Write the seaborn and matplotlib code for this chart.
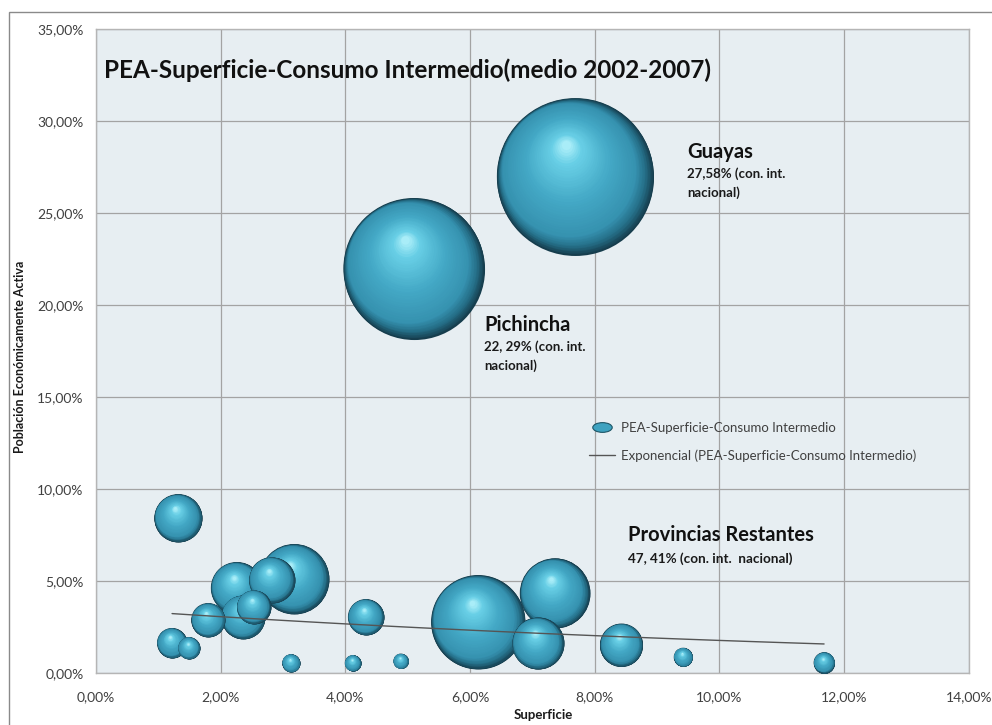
import numpy as np
import pandas as pd
import seaborn as sns
import matplotlib.pyplot as plt
import matplotlib.transforms as mtransforms
from matplotlib.colors import LinearSegmentedColormap
from matplotlib.lines import Line2D
from matplotlib.patches import Rectangle
from matplotlib.path import Path
from matplotlib.ticker import FuncFormatter, MultipleLocator

# --- DATI (in %) ---
superficie = [7.69, 5.10, 1.32, 3.18, 2.26, 2.82, 2.36, 2.53, 1.80, 1.22, 1.49,
              3.13, 4.12, 4.89, 4.33, 6.13, 7.36, 7.09, 8.43, 9.42, 11.68]
pea = [26.98, 21.98, 8.42, 5.11, 4.62, 5.05, 3.04, 3.59, 2.88, 1.63, 1.36,
       0.54, 0.54, 0.65, 3.04, 2.77, 4.33, 1.61, 1.52, 0.86, 0.56]
consumo_int = [27.58, 22.29, 2.58, 5.48, 3.03, 2.37, 2.16, 1.29, 1.29, 1.01, 0.54,
               0.36, 0.29, 0.25, 1.45, 9.89, 5.48, 3.03, 2.07, 0.40, 0.49]

titolo = 'PEA-Superficie-Consumo Intermedio(medio 2002-2007)'
serie = 'PEA-Superficie-Consumo Intermedio'

df = pd.DataFrame({'Superficie': superficie, 'PEA': pea, 'Consumo': consumo_int})

# --- STILE ---
sns.set_theme(style='white')
plt.rcParams['font.family'] = ['Lato', 'DejaVu Sans']

W, H = 992, 725
fig = plt.figure(figsize=(W / 100, H / 100), dpi=100)
ax = fig.add_axes([96 / W, 1 - 673 / H, (968.7 - 96) / W, (673 - 29) / H])
ax.set_facecolor('#e7eef2')

# area proporzionale al consumo intermedio
k = 463.0
vmin, vmax = df['Consumo'].min(), df['Consumo'].max()
sns.scatterplot(data=df, x='Superficie', y='PEA', size='Consumo',
                sizes=(k * vmin, k * vmax), size_norm=(vmin, vmax),
                color='#173f4d', linewidth=0, legend=False, ax=ax, zorder=2)

# effetto sfera: cerchi annidati, ombra in basso a destra, luce in alto a sinistra
cmap = LinearSegmentedColormap.from_list('sfera', [
    (0.0, '#163d4d'), (0.07, '#256f88'), (0.15, '#3692b0'), (0.45, '#43a8c5'),
    (0.80, '#68cfe6'), (1.0, '#c4faff')])
diag = np.array([-0.707, 0.707])
luce = np.array([-0.12, 0.40])
o_mid = 0.15 * 0.8 * diag

def spostamento(f):
    # spostamento del centro dello strato (in frazioni del raggio)
    if f >= 0.85:
        return (1 - f) * 0.8 * diag
    t = (0.85 - f) / (0.85 - 0.06)
    return o_mid + t * (luce - o_mid)

strati = np.concatenate([np.linspace(1, 0.85, 24), np.linspace(0.84, 0.06, 34)])
ordine = df.sort_values('Consumo', ascending=False).index
z = 3
for i in ordine:
    x, y, v = df.loc[i, 'Superficie'], df.loc[i, 'PEA'], df.loc[i, 'Consumo']
    r_pt = np.sqrt(k * v) / 2
    for f in strati:
        o = spostamento(f) * r_pt
        tr = mtransforms.offset_copy(ax.transData, fig=fig, x=o[0], y=o[1], units='points')
        ax.scatter([x], [y], s=(2 * f * r_pt) ** 2, color=cmap(1 - f),
                   transform=tr, linewidths=0, zorder=z)
    z += 1

# linea di tendenza esponenziale
b, a = np.polyfit(df['Superficie'], np.log(df['PEA']), 1)
xs = np.linspace(df['Superficie'].min(), df['Superficie'].max(), 60)
trend = pd.DataFrame({'x': xs, 'y': np.exp(a + b * xs)})
sns.lineplot(data=trend, x='x', y='y', color='#555555', linewidth=1.0, ax=ax, zorder=100)

# assi
ax.set_xlim(0, 14)
ax.set_ylim(0, 35)
ax.xaxis.set_major_locator(MultipleLocator(2))
ax.yaxis.set_major_locator(MultipleLocator(5))
fmt = FuncFormatter(lambda v, p: f'{v:.2f}%'.replace('.', ','))
ax.xaxis.set_major_formatter(fmt)
ax.yaxis.set_major_formatter(fmt)
ax.tick_params(axis='both', length=0, labelsize=10, labelcolor='#404040')
ax.tick_params(axis='y', pad=9)
ax.tick_params(axis='x', pad=13)
ax.grid(True, color='#a3a3a3', linewidth=0.9)
ax.set_axisbelow(True)
for s in ax.spines.values():
    s.set_color('#b5b5b5')
    s.set_linewidth(1)
ax.set_xlabel('')
ax.set_ylabel('')

def ftext(px, py, txt, **kw):
    fig.text(px / W, 1 - py / H, txt, **kw)

ftext(20, 357, 'Población Económicamente Activa', rotation=90, ha='center', va='center',
      fontsize=9, fontweight='bold', color='#1a1a1a')
ftext(543, 715, 'Superficie', ha='center', va='center', fontsize=9.5,
      fontweight='bold', color='#1a1a1a')

# titolo e annotazioni
ftext(104, 70, titolo, ha='left', va='center', fontsize=17.5, fontweight='bold',
      color='#111111', zorder=200)
ftext(687, 152, 'Guayas', ha='left', va='center', fontsize=14.5, fontweight='bold',
      color='#111111', zorder=200)
ftext(687, 174, '27,58% (con. int.', ha='left', va='center', fontsize=9.5,
      fontweight='bold', color='#1a1a1a', zorder=200)
ftext(687, 193, 'nacional)', ha='left', va='center', fontsize=9.5,
      fontweight='bold', color='#1a1a1a', zorder=200)
ftext(484, 325, 'Pichincha', ha='left', va='center', fontsize=14.5, fontweight='bold',
      color='#111111', zorder=200)
ftext(484, 347, '22, 29% (con. int.', ha='left', va='center', fontsize=9.5,
      fontweight='bold', color='#1a1a1a', zorder=200)
ftext(484, 366, 'nacional)', ha='left', va='center', fontsize=9.5,
      fontweight='bold', color='#1a1a1a', zorder=200)
ftext(628, 535, 'Provincias Restantes', ha='left', va='center', fontsize=14.5,
      fontweight='bold', color='#111111', zorder=200)
ftext(628, 559, '47, 41% (con. int.  nacional)', ha='left', va='center', fontsize=9.75,
      fontweight='bold', color='#1a1a1a', zorder=200)

# legenda
ellisse = Path.unit_circle().transformed(mtransforms.Affine2D().scale(1.0, 0.5))
h1 = Line2D([], [], marker=ellisse, markersize=14, color='#3ea2c0',
            markeredgecolor='#1d5566', markeredgewidth=0.8, linestyle='none')
h2 = Line2D([], [], color='#555555', linewidth=1.0)
ax.legend([h1, h2], [serie, f'Exponencial ({serie})'], loc='upper left',
          bbox_to_anchor=(577 / W, 1 - 410 / H), bbox_transform=fig.transFigure,
          frameon=False, fontsize=9.5, labelcolor='#404040', handlelength=2.0,
          handletextpad=0.4, labelspacing=1.15)

# cornice esterna
fig.patches.append(Rectangle((9 / W, -0.05), 1.2, 1 - 12 / H + 0.05,
                             transform=fig.transFigure, fill=False,
                             edgecolor='#8a8a8a', linewidth=1.0))

plt.savefig('out.png', dpi=100)
plt.close(fig)
